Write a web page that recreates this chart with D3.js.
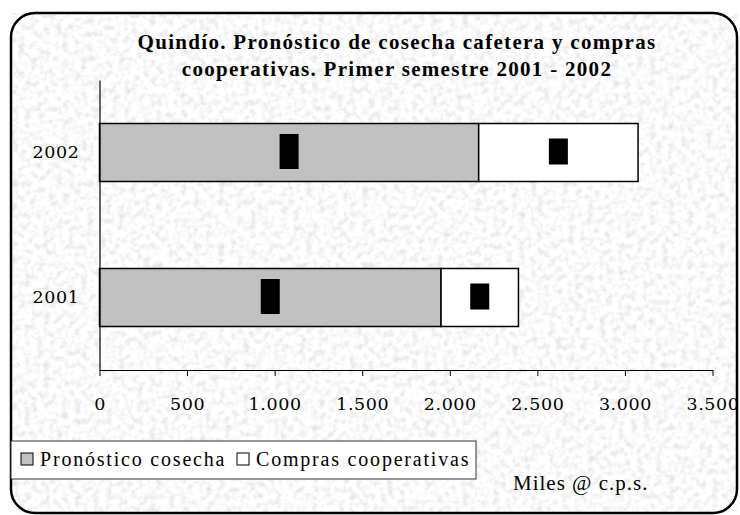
<!DOCTYPE html>
<html>
<head>
<meta charset="utf-8">
<script src="https://cdn.jsdelivr.net/npm/d3@7"></script>
<style>
  body { margin: 0; background: #fff; }
</style>
</head>
<body>
<div id="chart"></div>
<script>
// data (Miles @ c.p.s.)
var categories = ["2002", "2001"];
var pronostico = [2165, 1950];
var compras = [910, 442];
var seriesNames = ["Pronóstico cosecha", "Compras cooperativas"];
var seriesColors = ["#c0c0c0", "#ffffff"];
var tickValues = [0, 500, 1000, 1500, 2000, 2500, 3000, 3500];
var titleLines = ["Quindío. Pronóstico de cosecha cafetera y compras",
                  "cooperativas. Primer semestre 2001 - 2002"];
var unitLabel = "Miles @ c.p.s.";

var W = 740, H = 515;
var plot = {left: 99.5, right: 712.5, top: 80, bottom: 370};

var svg = d3.select("#chart").append("svg")
    .attr("width", W).attr("height", H);

var defs = svg.append("defs");
var f = defs.append("filter").attr("id", "paper")
    .attr("x", 0).attr("y", 0).attr("width", "100%").attr("height", "100%");
f.append("feTurbulence").attr("type", "fractalNoise")
    .attr("baseFrequency", 0.16).attr("numOctaves", 2).attr("seed", 4);
f.append("feColorMatrix").attr("type", "matrix")
    .attr("values", "0.5 0 0 0 0.71  0.5 0 0 0 0.71  0.5 0 0 0 0.71  0 0 0 0 1");

// frame with textured background
svg.append("rect")
    .attr("x", 11).attr("y", 13).attr("width", 726).attr("height", 500)
    .attr("rx", 24).attr("ry", 24)
    .attr("fill", "#eee")
    .attr("filter", "url(#paper)");
svg.append("rect")
    .attr("x", 11).attr("y", 13).attr("width", 726).attr("height", 500)
    .attr("rx", 24).attr("ry", 24)
    .attr("fill", "none").attr("stroke", "#000").attr("stroke-width", 2.5);

// title
svg.append("g").selectAll("text")
    .data(titleLines)
    .enter().append("text")
    .attr("x", 397)
    .attr("y", function(d, i) { return 49 + i * 27; })
    .attr("text-anchor", "middle")
    .attr("font-family", "Liberation Serif")
    .attr("font-weight", "bold")
    .attr("font-size", 21)
    .attr("letter-spacing", 1.3)
    .text(function(d) { return d; });

var x = d3.scaleLinear().domain([0, 3500]).range([plot.left, plot.right]);
var y = d3.scaleBand().domain(categories).range([plot.top, plot.bottom])
    .paddingInner(0.6).paddingOuter(0.3);

var stack = categories.map(function(c, i) {
  return [
    {cat: c, s: 0, x0: 0, x1: pronostico[i]},
    {cat: c, s: 1, x0: pronostico[i], x1: pronostico[i] + compras[i]}
  ];
});
var segs = d3.merge(stack);

var bars = svg.append("g").attr("class", "bars");
bars.selectAll("rect")
    .data(segs)
    .enter().append("rect")
    .attr("x", function(d) { return x(d.x0); })
    .attr("y", function(d) { return y(d.cat); })
    .attr("width", function(d) { return x(d.x1) - x(d.x0); })
    .attr("height", y.bandwidth())
    .attr("fill", function(d) { return seriesColors[d.s]; })
    .attr("stroke", "#000").attr("stroke-width", 1.5);

// black data-label blocks in the middle of each segment
var markH = [35, 26];
bars.selectAll(".mark")
    .data(segs)
    .enter().append("rect").attr("class", "mark")
    .attr("x", function(d) { return (x(d.x0) + x(d.x1)) / 2 - 9.5; })
    .attr("y", function(d) { return y(d.cat) + y.bandwidth() / 2 - markH[d.s] / 2 - 1; })
    .attr("width", 19)
    .attr("height", function(d) { return markH[d.s]; })
    .attr("fill", "#000");

// x axis
var loc = d3.formatLocale({decimal: ",", thousands: ".", grouping: [3], currency: ["", ""]});
var xAxis = d3.axisBottom(x).tickValues(tickValues)
    .tickFormat(loc.format(",")).tickSize(6).tickSizeOuter(0).tickPadding(22);
var gx = svg.append("g")
    .attr("transform", "translate(0," + plot.bottom + ")")
    .call(xAxis);
gx.select(".domain").attr("stroke", "#000").attr("stroke-width", 1.2);
gx.selectAll(".tick line").attr("stroke", "#000");
gx.selectAll(".tick text")
    .attr("font-family", "DejaVu Serif")
    .attr("font-size", 17.5)
    .attr("letter-spacing", 0.6)
    .attr("fill", "#000");

// y axis
var yAxis = d3.axisLeft(y).tickSize(0).tickPadding(20);
var gy = svg.append("g")
    .attr("transform", "translate(" + plot.left + ",0)")
    .call(yAxis);
gy.select(".domain").attr("stroke", "#000").attr("stroke-width", 1.2);
gy.selectAll(".tick text")
    .attr("font-family", "DejaVu Serif")
    .attr("font-size", 17.5)
    .attr("letter-spacing", 0.6)
    .attr("fill", "#000");

// legend
var lg = svg.append("g").attr("class", "legend");
lg.append("rect")
    .attr("x", 11).attr("y", 441).attr("width", 465).attr("height", 38)
    .attr("fill", "#fff").attr("stroke", "#333").attr("stroke-width", 1);
var legX = [21, 237];
var items = lg.selectAll(".item")
    .data(seriesNames)
    .enter().append("g").attr("class", "item")
    .attr("transform", function(d, i) { return "translate(" + legX[i] + ",453)"; });
items.append("rect")
    .attr("width", 12).attr("height", 12)
    .attr("fill", function(d, i) { return seriesColors[i]; })
    .attr("stroke", "#000").attr("stroke-width", 1);
items.append("text")
    .attr("x", 19).attr("y", 12.5)
    .attr("font-family", "Liberation Serif")
    .attr("font-size", 20)
    .attr("letter-spacing", 1.8)
    .text(function(d) { return d; });

// unit label
svg.append("text")
    .attr("x", 513).attr("y", 490)
    .attr("font-family", "Liberation Serif")
    .attr("font-size", 21)
    .attr("letter-spacing", 1)
    .text(unitLabel);
</script>
</body>
</html>
